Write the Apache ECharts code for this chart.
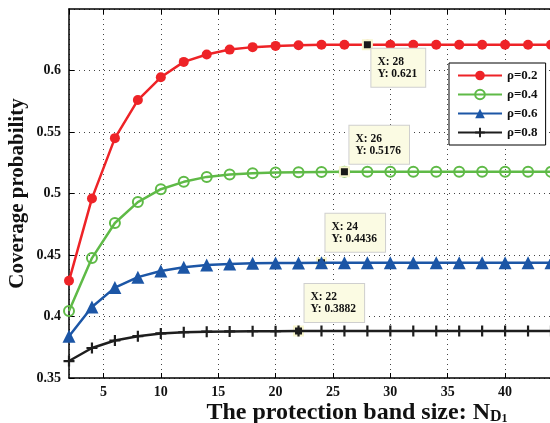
<!DOCTYPE html>
<html>
<head>
<meta charset="utf-8">
<script src="https://cdn.jsdelivr.net/npm/echarts@6/dist/echarts.min.js"></script>
<style>
html,body{margin:0;padding:0;background:#fff;}
#chart{width:550px;height:423px;}
</style>
</head>
<body>
<div id="chart"></div>
<script>
var xValues = [2,4,6,8,10,12,14,16,18,20,22,24,26,28,30,32,34,36,38,40,42,44];
var rho02 = [0.429,0.496,0.545,0.576,0.5945,0.607,0.613,0.617,0.619,0.620,0.6205,0.621,0.621,0.621,0.621,0.621,0.621,0.621,0.621,0.621,0.621,0.621];
var rho04 = [0.4045,0.4475,0.476,0.493,0.5035,0.5095,0.5135,0.5155,0.5165,0.517,0.5173,0.5175,0.5176,0.5176,0.5176,0.5176,0.5176,0.5176,0.5176,0.5176,0.5176,0.5176];
var rho06 = [0.384,0.4077,0.4235,0.432,0.437,0.440,0.4418,0.4427,0.4432,0.4434,0.4435,0.4436,0.4436,0.4436,0.4436,0.4436,0.4436,0.4436,0.4436,0.4436,0.4436,0.4436];
var rho08 = [0.3638,0.3744,0.3805,0.384,0.3862,0.3872,0.3877,0.3879,0.3881,0.3881,0.3882,0.3882,0.3882,0.3882,0.3882,0.3882,0.3882,0.3882,0.3882,0.3882,0.3882,0.3882];
var seriesNames = ['ρ=0.2','ρ=0.4','ρ=0.6','ρ=0.8'];
var tipX = [28,26,24,22];
var yTicks = [0.35,0.65,0.05];
var xRange = [2,44];

var SERIF = '"Liberation Serif","Times New Roman",serif';
var colors = ['#ee2327','#5fba47','#1c56a6','#1e1e1e'];
var allData = [rho02,rho04,rho06,rho08];
var symbols = ['circle','circle','triangle','path://M4,0H6V4H10V6H6V10H4V6H0V4H4Z'];
var symSizes = [10,10,13,11];
var tipPos = [[9.5,9.5,'top'],[10.5,-2.5,'bottom'],[9.5,-5.5,'bottom'],[11.5,-3.5,'bottom']];

function pairs(arr){ return xValues.map(function(x,i){ return [x, arr[i]]; }); }

var series = allData.map(function(arr, k){
  var ix = xValues.indexOf(tipX[k]);
  var itemStyle = (k === 1)
    ? {color:'rgba(255,255,255,0)', borderColor:colors[k], borderWidth:2}
    : {color:colors[k], borderWidth:0};
  return {
    name: seriesNames[k],
    type: 'line',
    data: pairs(arr),
    symbol: symbols[k],
    symbolSize: symSizes[k],
    showAllSymbol: true,
    lineStyle: {color: colors[k], width: 2.5},
    itemStyle: itemStyle,
    z: 3 + k,
    animation: false,
    markPoint: {
      symbol: 'rect',
      symbolSize: 9,
      animation: false,
      itemStyle: {color:'#1a1a1a', borderColor:'#f8f6cf', borderWidth:2},
      data: [{
        coord: [tipX[k], arr[ix]],
        value: arr[ix],
        label: {
          show: true,
          position: [tipPos[k][0], tipPos[k][1]],
          align: 'left',
          verticalAlign: tipPos[k][2],
          formatter: 'X: ' + tipX[k] + '\nY: ' + arr[ix],
          fontFamily: SERIF,
          fontWeight: 'bold',
          fontSize: 11.5,
          lineHeight: 12,
          color: '#111',
          backgroundColor: '#fbfbe3',
          borderColor: '#cfcfcf',
          borderWidth: 1,
          padding: [7,8,7,6]
        }
      }]
    }
  };
});

var chart = echarts.init(document.getElementById('chart'), null, {renderer:'canvas'});
chart.setOption({
  animation: false,
  backgroundColor: '#fff',
  grid: {left: 69, right: -1, top: 9, bottom: 45, containLabel: false, outerBoundsMode: 'none'},
  legend: {
    orient: 'vertical',
    left: 449, top: 63,
    data: seriesNames,
    backgroundColor: '#fff',
    borderColor: '#000',
    borderWidth: 1,
    borderRadius: 0,
    padding: [6,8,6,8],
    itemWidth: 44,
    itemHeight: 12,
    itemGap: 6,
    textStyle: {fontFamily: SERIF, fontWeight: 'bold', fontSize: 13, color: '#111'}
  },
  xAxis: [{
    type: 'value',
    min: xRange[0], max: xRange[1],
    splitNumber: 8,
    name: '{m|The protection band size: N}{sub|D}{sub2|1}',
    nameLocation: 'middle',
    nameGap: 21,
    nameMoveOverlap: false,
    nameTextStyle: {
      fontFamily: SERIF, fontWeight: 'bold', fontSize: 24, color: '#111',
      padding: [0,0,0,94],
      rich: {
        m: {fontFamily: SERIF, fontWeight: 'bold', fontSize: 24, color: '#111', lineHeight: 26, verticalAlign: 'bottom'},
        sub: {fontFamily: SERIF, fontWeight: 'bold', fontSize: 16, color: '#111', lineHeight: 26, verticalAlign: 'bottom'},
        sub2: {fontFamily: SERIF, fontWeight: 'bold', fontSize: 12, color: '#111', lineHeight: 26, verticalAlign: 'bottom'}
      }
    },
    axisLine: {show: true, lineStyle: {color: '#000', width: 1.5}},
    axisTick: {show: true, inside: true, length: 5, lineStyle: {color: '#000'}},
    axisLabel: {showMinLabel: false, showMaxLabel: false, margin: 7, fontFamily: SERIF, fontWeight: 'bold', fontSize: 14, color: '#111'},
    splitLine: {show: true, lineStyle: {color: '#444', type: [1,4], width: 1}}
  },{
    type: 'value',
    position: 'top',
    min: xRange[0], max: xRange[1],
    splitNumber: 8,
    axisLine: {show: true, lineStyle: {color: '#000', width: 1.5}},
    axisTick: {show: true, inside: true, length: 5, lineStyle: {color: '#000'}},
    axisLabel: {show: false},
    splitLine: {show: false}
  }],
  yAxis: {
    type: 'value',
    min: yTicks[0], max: yTicks[1], interval: yTicks[2],
    name: 'Coverage probability',
    nameLocation: 'middle',
    nameGap: 41,
    nameMoveOverlap: false,
    nameTextStyle: {fontFamily: SERIF, fontWeight: 'bold', fontSize: 21, color: '#111'},
    axisLine: {show: true, lineStyle: {color: '#000', width: 1.5}},
    axisTick: {show: true, inside: true, length: 5, lineStyle: {color: '#000'}},
    axisLabel: {showMaxLabel: false, margin: 8, fontFamily: SERIF, fontWeight: 'bold', fontSize: 14, color: '#111',
      formatter: function(v){ return String(+v.toFixed(2)); }},
    splitLine: {show: true, lineStyle: {color: '#444', type: [1,4], width: 1}}
  },
  series: series
});
</script>
</body>
</html>
